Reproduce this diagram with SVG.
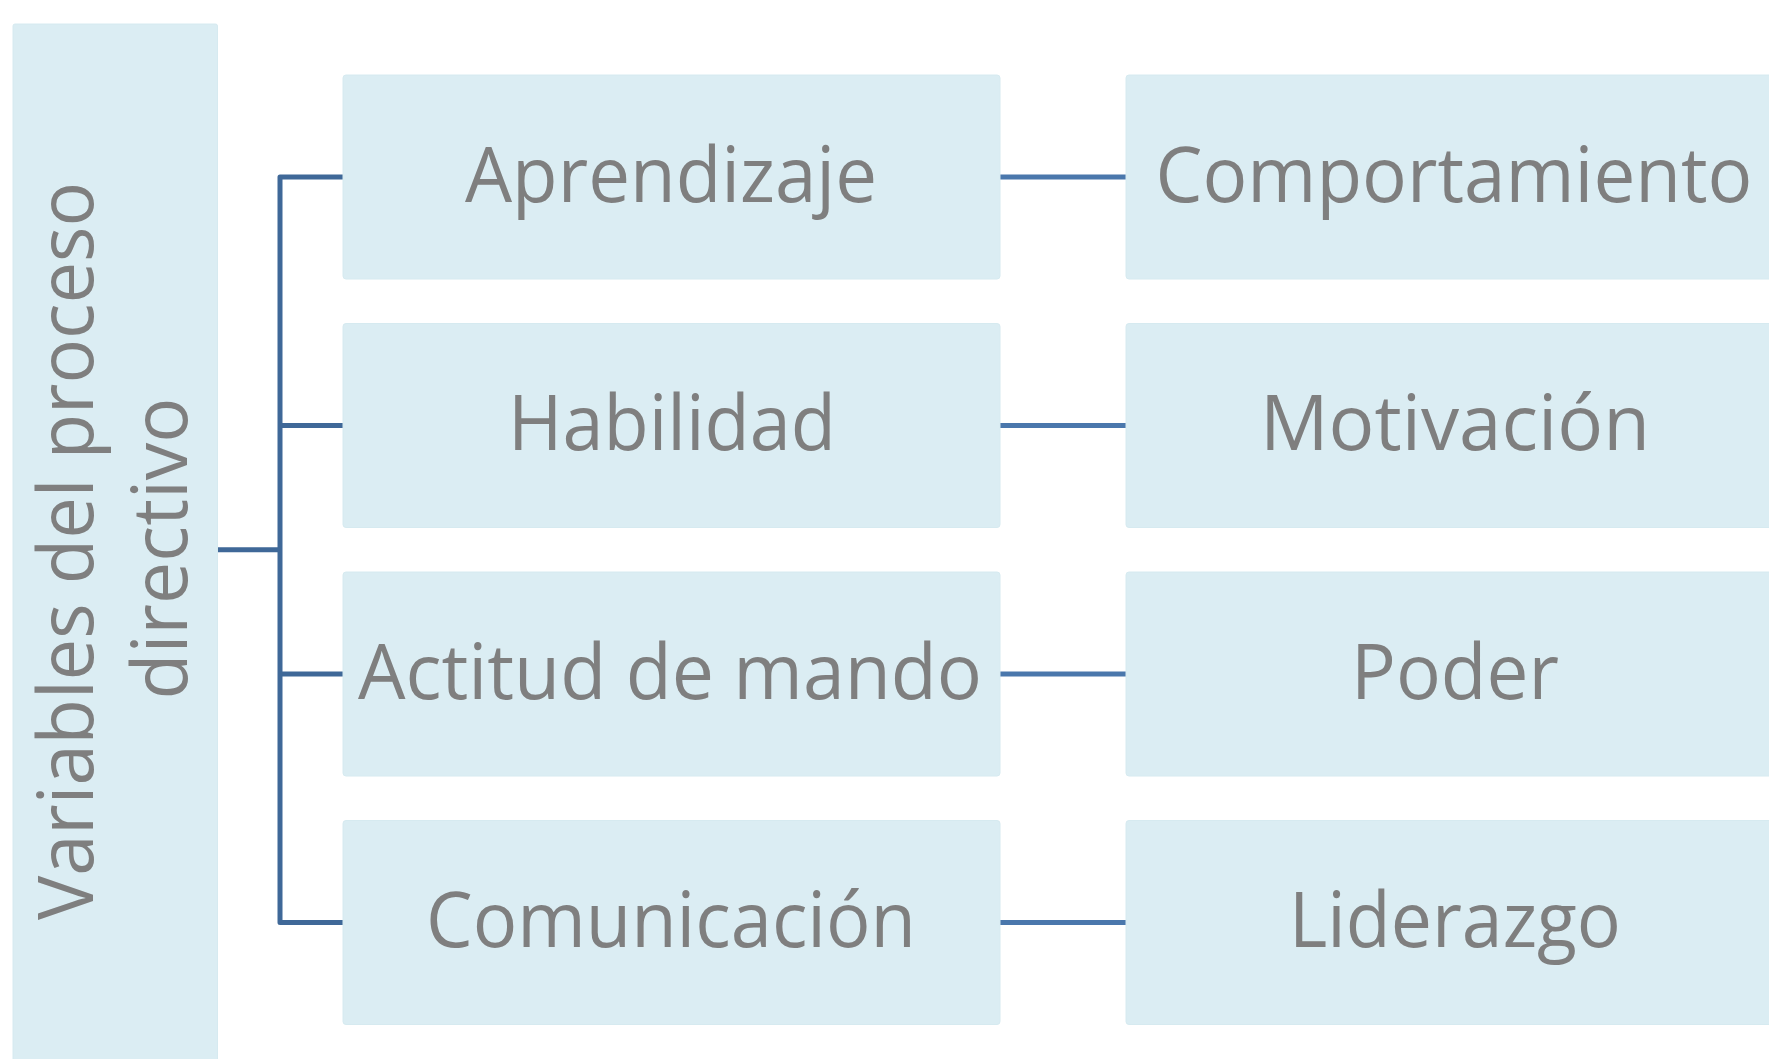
<svg xmlns="http://www.w3.org/2000/svg" width="1769" height="1059" viewBox="0 0 1769 1059">
<style>
.box{fill:#dbedf3;stroke:#d6eaf0;stroke-width:1}
.lbl{font-family:"Open Sans","Liberation Sans",sans-serif;font-size:76px;fill:#7f7f7f;text-anchor:middle}
.br{fill:none;stroke:#3f6898;stroke-width:5;stroke-linejoin:round}
.ln{fill:none;stroke:#4a77ac;stroke-width:5}
</style>
<rect width="1769" height="1059" fill="#ffffff"/>
<g id="connectors">
<path class="br" d="M343,177 H280 V922.5 H343"/>
<path class="br" d="M280,425.5 H343 M280,674 H343 M218,549.75 H280"/>
<path class="ln" d="M1000,177 H1126 M1000,425.5 H1126 M1000,674 H1126 M1000,922.5 H1126"/>
</g>
<g id="root">
<rect class="box" x="13" y="24" width="204.5" height="1051" rx="2"/>
<text class="lbl" transform="translate(92.7,551) rotate(-90)" textLength="738" lengthAdjust="spacingAndGlyphs">Variables del proceso</text>
<text class="lbl" transform="translate(186.7,548.5) rotate(-90)" textLength="302" lengthAdjust="spacingAndGlyphs">directivo</text>
</g>
<g id="n-aprendizaje">
<rect class="box" x="343" y="75" width="657" height="204" rx="3"/>
<text class="lbl" x="671" y="201.5" textLength="412" lengthAdjust="spacingAndGlyphs">Aprendizaje</text>
</g>
<g id="n-habilidad">
<rect class="box" x="343" y="323.5" width="657" height="204" rx="3"/>
<text class="lbl" x="672" y="450" textLength="328" lengthAdjust="spacingAndGlyphs">Habilidad</text>
</g>
<g id="n-actitud">
<rect class="box" x="343" y="572" width="657" height="204" rx="3"/>
<text class="lbl" x="670" y="698.5" textLength="624" lengthAdjust="spacingAndGlyphs">Actitud de mando</text>
</g>
<g id="n-comunicacion">
<rect class="box" x="343" y="820.5" width="657" height="204" rx="3"/>
<text class="lbl" x="671" y="947" textLength="490" lengthAdjust="spacingAndGlyphs">Comunicación</text>
</g>
<g id="n-comportamiento">
<rect class="box" x="1126" y="75" width="660" height="204" rx="3"/>
<text class="lbl" x="1454" y="201.5" textLength="597" lengthAdjust="spacingAndGlyphs">Comportamiento</text>
</g>
<g id="n-motivacion">
<rect class="box" x="1126" y="323.5" width="660" height="204" rx="3"/>
<text class="lbl" x="1455" y="450" textLength="390" lengthAdjust="spacingAndGlyphs">Motivación</text>
</g>
<g id="n-poder">
<rect class="box" x="1126" y="572" width="660" height="204" rx="3"/>
<text class="lbl" x="1455" y="698.5" textLength="208" lengthAdjust="spacingAndGlyphs">Poder</text>
</g>
<g id="n-liderazgo">
<rect class="box" x="1126" y="820.5" width="660" height="204" rx="3"/>
<text class="lbl" x="1455" y="947" textLength="332" lengthAdjust="spacingAndGlyphs">Liderazgo</text>
</g>
</svg>
